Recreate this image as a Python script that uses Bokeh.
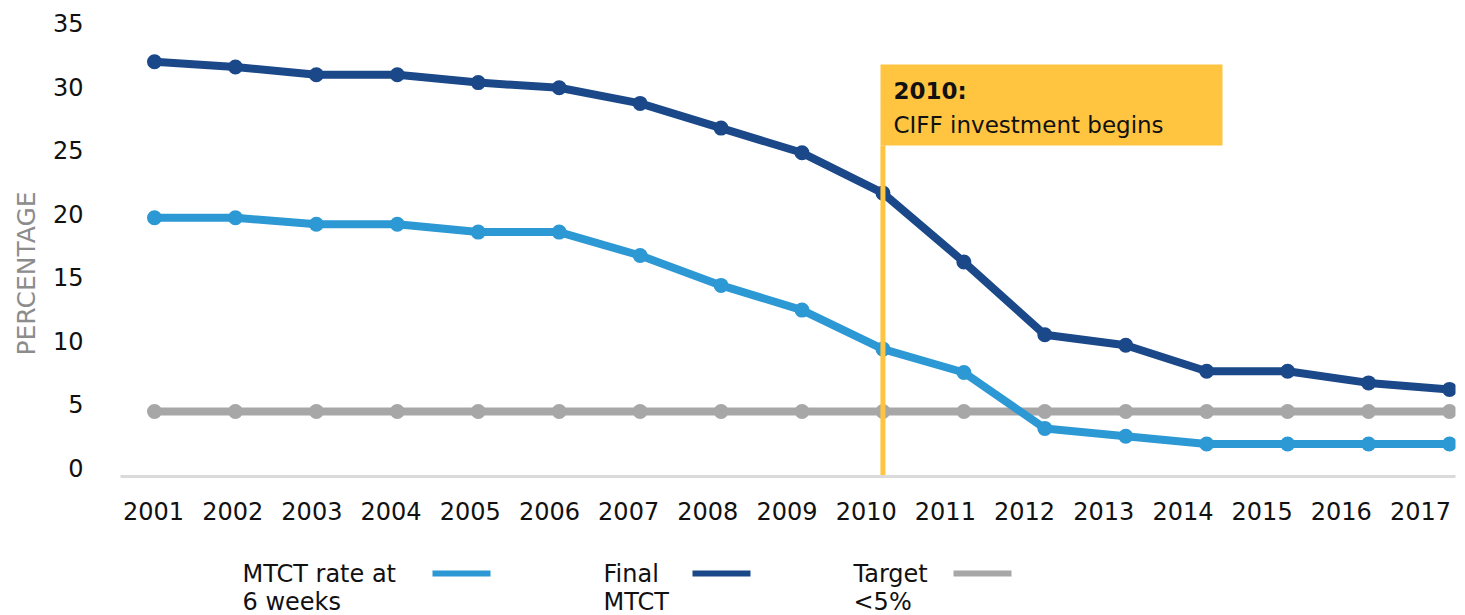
from bokeh.plotting import figure
from bokeh.layouts import column
from bokeh.models import Range1d, LinearAxis, FixedTicker, Label, BoxAnnotation, Title
from bokeh.core.properties import value
from bokeh.embed import file_html
from bokeh.resources import INLINE

# ---------------- data ----------------
years = [2001, 2002, 2003, 2004, 2005, 2006, 2007, 2008, 2009,
         2010, 2011, 2012, 2013, 2014, 2015, 2016, 2017]
mtct_6_weeks = [19.9, 19.9, 19.4, 19.4, 18.8, 18.8, 17.0, 14.7, 12.8,
                9.8, 8.0, 3.7, 3.1, 2.5, 2.5, 2.5, 2.5]
final_mtct = [31.9, 31.5, 30.9, 30.9, 30.3, 29.9, 28.7, 26.8, 24.9,
              21.8, 16.5, 10.9, 10.1, 8.1, 8.1, 7.2, 6.7]
target = [5, 5, 5, 5, 5, 5, 5, 5, 5, 5, 5, 5, 5, 5, 5, 5, 5]
y_ticks = [0, 5, 10, 15, 20, 25, 30, 35]
legend_first = ["MTCT rate at", "Final", "Target"]
legend_second = ["6 weeks", "MTCT", "<5%"]
annotation_year = 2010
annotation_title = "2010:"
annotation_text = "CIFF investment begins"
y_title = "PERCENTAGE"

# ---------------- styles / layout ----------------
C_LIGHT = "#2C98D4"
C_DARK = "#1B4889"
C_GRAY = "#A7A7A7"
C_YELLOW = "#FFC440"
FONT = "DejaVu Sans"

W = 1465
H_MAIN = 545
H_LEG = 70
FL, FR, FT, FB = 120, 1455, 13, 476          # frame edges (page px)
X0, X1 = 2000.58, 2017.074
Y0, Y1 = 0.0, 35.615


def cx(px):
    return X0 + (px - FL) * (X1 - X0) / (FR - FL)


def cy(py):
    return Y0 + (FB - py) * (Y1 - Y0) / (FB - FT)


p = figure(width=W, height=H_MAIN, x_range=Range1d(X0, X1), y_range=Range1d(Y0, Y1),
           output_backend="svg", toolbar_location=None,
           x_axis_location=None, y_axis_location=None,
           min_border_left=FL, min_border_right=W - FR,
           min_border_top=FT, min_border_bottom=H_MAIN - FB)
p.outline_line_color = None
p.grid.visible = False
p.background_fill_color = "white"
p.border_fill_color = "white"

p.extra_x_ranges = {"xl": Range1d(2000.583, 2017.442)}
p.extra_y_ranges = {"yl": Range1d(-0.709, 35.788)}

xa = LinearAxis(x_range_name="xl", ticker=FixedTicker(ticks=years),
                major_label_overrides={y: str(y) for y in years})
xa.axis_line_color = "#DADADA"
xa.axis_line_width = 3
xa.major_tick_line_color = None
xa.minor_tick_line_color = None
xa.major_tick_out = 0
xa.major_tick_in = 0
xa.major_label_standoff = 25
xa.major_label_text_font = FONT
xa.major_label_text_font_size = "24px"
xa.major_label_text_color = "#111111"
p.add_layout(xa, "below")

ya = LinearAxis(y_range_name="yl", ticker=FixedTicker(ticks=y_ticks),
                major_label_overrides={t: str(t) for t in y_ticks})
ya.axis_line_color = None
ya.major_tick_line_color = None
ya.minor_tick_line_color = None
ya.major_tick_out = 0
ya.major_tick_in = 0
ya.major_label_standoff = 37
ya.major_label_text_font = FONT
ya.major_label_text_font_size = "24px"
ya.major_label_text_color = "#111111"
p.add_layout(ya, "left")

p.add_layout(Title(text=y_title, align="left", offset=FB - 355, standoff=18,
                   text_font=FONT, text_font_size="25px", text_font_style="normal",
                   text_color="#8C8C8C"), "left")

# series
for vals, col in [(target, C_GRAY), (mtct_6_weeks, C_LIGHT), (final_mtct, C_DARK)]:
    p.line(years, vals, line_color=col, line_width=8)
    p.scatter(years, vals, size=15, fill_color=col, line_color=None)

# annotation
p.add_layout(BoxAnnotation(left=cx(880), right=cx(1222), top=cy(64), bottom=cy(145),
                           fill_color=C_YELLOW, fill_alpha=1.0, line_color=None))
p.segment(x0=[annotation_year], y0=[Y0], x1=[annotation_year], y1=[cy(145)],
          line_color=C_YELLOW, line_width=5)
p.add_layout(Label(x=cx(893), y=cy(90), text=annotation_title, text_font=FONT,
                   text_font_size="23px", text_font_style="bold", text_color="#111111",
                   text_baseline="middle", text_align="left"))
p.add_layout(Label(x=cx(893), y=cy(124), text=annotation_text, text_font=FONT,
                   text_font_size="23px", text_color="#111111",
                   text_baseline="middle", text_align="left"))

# legend (separate strip below the chart; its frame is aligned with the chart frame,
# so its data units equal page pixels)
lg = figure(width=W, height=H_LEG, x_range=Range1d(FL, FR),
            y_range=Range1d(H_MAIN + H_LEG, H_MAIN),
            output_backend="svg", toolbar_location=None,
            x_axis_location=None, y_axis_location=None,
            min_border_left=FL, min_border_right=W - FR,
            min_border_top=0, min_border_bottom=0)
lg.outline_line_color = None
lg.grid.visible = False
lg.background_fill_color = "white"
lg.border_fill_color = "white"

text_x = [242, 603, 853]
sample_x0 = [432, 692, 953]
sample_x1 = [490, 750, 1011]
colors = [C_LIGHT, C_DARK, C_GRAY]
lg.text(x=text_x, y=[573, 573, 573], text=legend_first, text_font=value(FONT),
        text_font_size="24px", text_color="#111111", text_baseline="middle",
        text_align="left")
lg.text(x=text_x, y=[601, 601, 601], text=legend_second, text_font=value(FONT),
        text_font_size="24px", text_color="#111111", text_baseline="middle",
        text_align="left")
lg.segment(x0=sample_x0, y0=[573, 573, 573], x1=sample_x1, y1=[573, 573, 573],
           line_color=colors, line_width=6, line_cap="butt")

layout = column(p, lg, spacing=0)
open("out.html", "w").write(file_html(layout, INLINE))
